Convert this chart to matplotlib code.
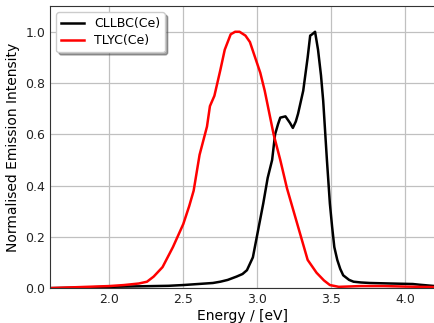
import matplotlib
matplotlib.use("Agg")
import matplotlib.pyplot as plt

# Emission spectra (energy in eV, normalised intensity)
cllbc_E = [1.60, 1.80, 2.00, 2.20, 2.40, 2.50, 2.60, 2.70, 2.75, 2.80, 2.86, 2.90,
           2.93, 2.97, 3.00, 3.04, 3.07, 3.10, 3.12, 3.14, 3.155, 3.19, 3.22, 3.24,
           3.26, 3.275, 3.31, 3.34, 3.357, 3.37, 3.39, 3.41, 3.43, 3.445, 3.47,
           3.49, 3.505, 3.52, 3.54, 3.56, 3.58, 3.62, 3.65, 3.70, 3.76, 3.90,
           4.05, 4.10, 4.20]
cllbc_I = [0.000, 0.002, 0.005, 0.007, 0.009, 0.012, 0.016, 0.020, 0.025, 0.032, 0.045, 0.055,
           0.070, 0.120, 0.210, 0.330, 0.430, 0.500, 0.600, 0.640, 0.665, 0.670, 0.645, 0.625,
           0.650, 0.680, 0.770, 0.900, 0.985, 0.990, 1.000, 0.930, 0.830, 0.730, 0.500,
           0.330, 0.240, 0.160, 0.110, 0.075, 0.050, 0.032, 0.025, 0.022, 0.020, 0.018,
           0.016, 0.013, 0.008]

tlyc_E = [1.60, 1.80, 2.00, 2.10, 2.20, 2.255, 2.30, 2.36, 2.43, 2.50, 2.54, 2.57,
          2.61, 2.66, 2.68, 2.71, 2.75, 2.78, 2.82, 2.85, 2.88, 2.92, 2.95, 2.985,
          3.02, 3.05, 3.11, 3.155, 3.20, 3.27, 3.34, 3.37, 3.40, 3.45, 3.49,
          3.55, 3.70, 3.85, 4.00, 4.20]
tlyc_I = [0.000, 0.004, 0.008, 0.012, 0.018, 0.025, 0.045, 0.082, 0.160, 0.250, 0.320, 0.380,
          0.520, 0.630, 0.710, 0.750, 0.850, 0.930, 0.990, 1.000, 1.000, 0.985, 0.960, 0.900,
          0.840, 0.770, 0.600, 0.500, 0.390, 0.250, 0.110, 0.085, 0.060, 0.030, 0.012,
          0.005, 0.008, 0.008, 0.006, 0.004]

fig = plt.figure(figsize=(4.35, 3.23), dpi=100)
ax = fig.add_axes([0.115, 0.108, 0.885, 0.873])

ax.plot(cllbc_E, cllbc_I, color="black", lw=1.8, label="CLLBC(Ce)")
ax.plot(tlyc_E, tlyc_I, color="red", lw=1.8, label="TLYC(Ce)")

ax.set_xlim(1.6, 4.2)
ax.set_ylim(0, 1.1)
ax.set_xticks([2.0, 2.5, 3.0, 3.5, 4.0])
ax.set_yticks([0.0, 0.2, 0.4, 0.6, 0.8, 1.0])
ax.grid(True, color="#c0c0c0", lw=0.9)
ax.set_axisbelow(True)
ax.tick_params(length=0, labelsize=9, colors="#222222")
for s in ax.spines.values():
    s.set_color("#333333")

ax.set_xlabel("Energy / [eV]", fontsize=10, labelpad=2)
ax.set_ylabel("Normalised Emission Intensity", fontsize=10)
ax.legend(loc="upper left", fontsize=9, shadow=True, fancybox=True,
          labelspacing=0.3, handlelength=1.8)

fig.savefig("out.png", dpi=100)
